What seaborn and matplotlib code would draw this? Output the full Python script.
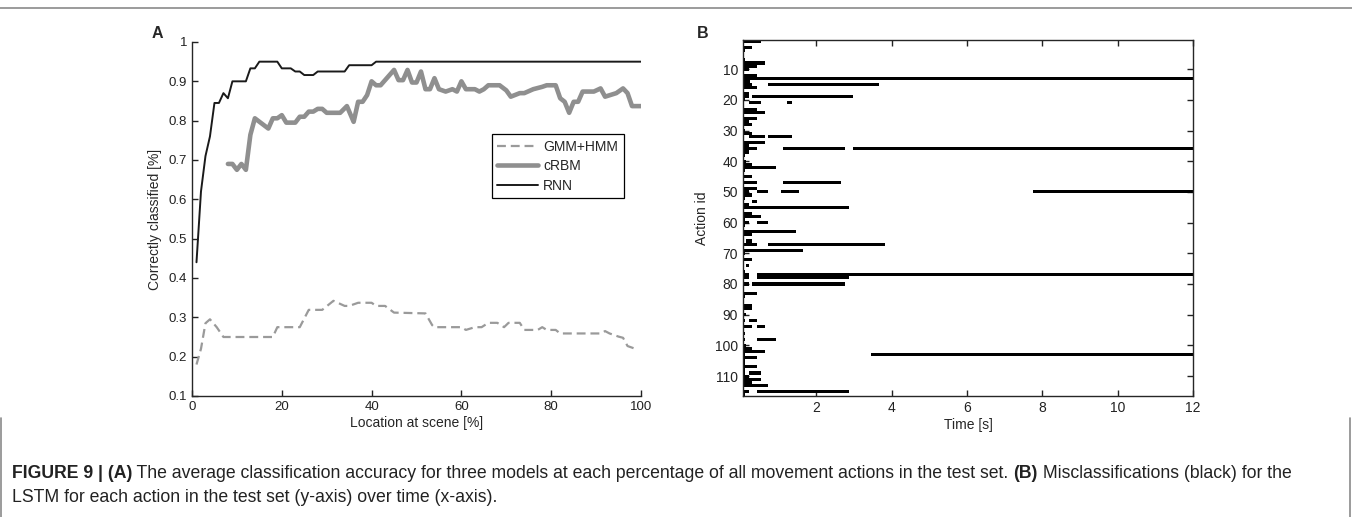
import numpy as np
import pandas as pd
import matplotlib
matplotlib.use('Agg')
import matplotlib.pyplot as plt
from matplotlib.lines import Line2D
import seaborn as sns

# panel A: accuracy vs. location at scene
rnn_x = [1, 2, 3, 4, 5, 6, 7, 8, 9, 12, 13, 14, 15, 19, 20, 22, 23, 24, 25, 27, 28, 34, 35, 40, 41, 100]
rnn_y = [0.44, 0.62, 0.71, 0.76, 0.845, 0.845, 0.87, 0.857, 0.9, 0.9, 0.933, 0.933, 0.95, 0.95,
         0.933, 0.933, 0.925, 0.925, 0.916, 0.916, 0.925, 0.925, 0.941, 0.941, 0.95, 0.95]

crbm_x = [8, 9, 10, 11, 12, 13, 14, 17, 18, 19, 20, 21, 23, 24, 25, 26, 27, 28, 29, 30, 33, 34.5,
          36, 37, 38, 39, 40, 41, 42, 43, 45, 46, 47, 48, 49, 50, 51, 52, 53, 54, 55, 56.5, 58, 59,
          60, 61, 63, 64, 65, 66, 68.5, 70, 71, 73, 74, 76, 78, 79, 81, 82, 83, 84, 85, 86, 87, 89.5,
          91, 92, 94.5, 96, 97, 98, 100]
crbm_y = [0.69, 0.69, 0.675, 0.69, 0.675, 0.764, 0.806, 0.78, 0.806, 0.806, 0.814, 0.795, 0.795,
          0.81, 0.81, 0.823, 0.823, 0.83, 0.83, 0.82, 0.82, 0.837, 0.797, 0.848, 0.848, 0.865, 0.9,
          0.89, 0.89, 0.903, 0.929, 0.903, 0.903, 0.929, 0.897, 0.897, 0.925, 0.88, 0.88, 0.908, 0.88,
          0.874, 0.88, 0.874, 0.9, 0.88, 0.88, 0.874, 0.88, 0.89, 0.89, 0.877, 0.861, 0.87, 0.87,
          0.88, 0.886, 0.89, 0.89, 0.857, 0.848, 0.82, 0.848, 0.848, 0.874, 0.874, 0.882, 0.861,
          0.87, 0.882, 0.87, 0.837, 0.837]

gmm_x = [1, 2, 3, 4, 5.5, 7, 18, 19, 24, 26, 29, 31.5, 34, 35, 37, 40, 41, 43, 45, 52, 53.5, 54,
         59, 60, 61, 63, 64.5, 66, 68, 69.5, 70.5, 73, 74, 77, 78, 79, 81, 82, 91, 92, 93, 95, 96,
         97, 99]
gmm_y = [0.18, 0.22, 0.285, 0.295, 0.275, 0.25, 0.25, 0.275, 0.275, 0.319, 0.319, 0.342, 0.329,
         0.329, 0.337, 0.337, 0.329, 0.329, 0.312, 0.31, 0.28, 0.275, 0.275, 0.275, 0.268, 0.275,
         0.275, 0.286, 0.286, 0.275, 0.286, 0.286, 0.268, 0.268, 0.275, 0.268, 0.268, 0.259, 0.259,
         0.265, 0.259, 0.251, 0.248, 0.227, 0.219]

# panel B: misclassified intervals per action (action id, start [s], end [s])
seg_action = [1, 3, 4, 7, 8, 9, 10, 12, 13, 14, 15, 15, 16, 18, 19, 19, 20, 21, 21, 23, 24, 26,
              27, 28, 30, 31, 32, 32, 34, 35, 36, 36, 36, 37, 38, 39, 40, 41, 42, 43, 45, 47, 47,
              49, 50, 50, 50, 50, 51, 52, 53, 54, 55, 57, 58, 59, 60, 60, 61, 63, 64, 66, 67, 67,
              69, 70, 72, 74, 76, 77, 77, 78, 78, 80, 80, 83, 84, 87, 88, 90, 92, 92, 94, 94, 96,
              98, 98, 100, 101, 102, 103, 103, 104, 105, 106, 107, 108, 109, 109, 110, 111, 112,
              113, 115, 115, 116]
seg_start = [0, 0, 0, 0, 0, 0, 0, 0, 0, 0, 0, 0.71, 0, 0, 0, 0.3, 0, 0.2, 1.23, 0, 0, 0,
             0, 0, 0, 0, 0.2, 0.71, 0, 0, 0, 1.12, 2.97, 0, 0, 0, 0, 0, 0, 0, 0, 0, 1.12,
             0, 0, 0.41, 1.05, 7.75, 0, 0, 0.3, 0, 0, 0, 0, 0, 0, 0.41, 0, 0, 0, 0.12, 0, 0.71,
             0, 0, 0, 0.12, 0, 0, 0.41, 0, 0.41, 0, 0.3, 0, 0, 0, 0, 0, 0, 0.2, 0, 0.41, 0,
             0, 0.41, 0, 0, 0, 0, 3.45, 0, 0, 0, 0, 0, 0, 0.2, 0, 0, 0,
             0, 0, 0.41, 0]
seg_end = [0.52, 0.3, 0.1, 0.1, 0.64, 0.41, 0.2, 0.41, 12, 0.23, 0.3, 3.65, 0.41, 0.2, 0.2, 2.97,
           0.1, 0.52, 1.34, 0.41, 0.64, 0.41, 0.2, 0.3, 0.1, 0.3, 0.64, 1.34, 0.64, 0.2, 0.41,
           2.77, 12, 0.2, 0.1, 0.05, 0.12, 0.3, 0.93, 0.1, 0.3, 0.41, 2.66, 0.41, 0.2, 0.71, 1.53,
           12, 0.3, 0.1, 0.41, 0.2, 2.86, 0.3, 0.52, 0.1, 0.2, 0.71, 0.1, 1.45, 0.3, 0.3, 0.41,
           3.82, 1.64, 0.1, 0.3, 0.2, 0.1, 0.2, 12, 0.2, 2.86, 0.2, 2.77, 0.41, 0.1, 0.3, 0.3,
           0.12, 0.1, 0.41, 0.3, 0.64, 0.1, 0.1, 0.93, 0.12, 0.3, 0.64, 0.1, 12, 0.41, 0.1, 0.1,
           0.41, 0.1, 0.1, 0.52, 0.2, 0.52, 0.3, 0.71, 0.2, 2.86, 0.1]

sns.set_theme(style='ticks')
plt.rcParams['font.family'] = ['Liberation Sans', 'DejaVu Sans']
plt.rcParams['axes.linewidth'] = 1.0

fig = plt.figure(figsize=(13.52, 5.17), dpi=100)
W, H = 1352, 517

def frac(left, top, right, bottom):
    return [left / W, 1 - bottom / H, (right - left) / W, (bottom - top) / H]

# ---- panel A ----
axA = fig.add_axes(frac(192, 42, 641, 396))
sns.lineplot(x=gmm_x, y=gmm_y, ax=axA, color='#9a9a9a', lw=1.6)
axA.lines[-1].set_dashes((4, 2.2))
sns.lineplot(x=crbm_x, y=crbm_y, ax=axA, color='#8f8f8f', lw=3.3)
sns.lineplot(x=rnn_x, y=rnn_y, ax=axA, color='#1a1a1a', lw=1.4)
axA.set_xlim(0, 100)
axA.set_ylim(0.1, 1)
axA.set_xticks([0, 20, 40, 60, 80, 100])
axA.set_yticks(np.arange(0.1, 1.01, 0.1))
axA.set_yticklabels(['0.1', '0.2', '0.3', '0.4', '0.5', '0.6', '0.7', '0.8', '0.9', '1'])
axA.tick_params(direction='in', length=4, width=1, labelsize=9.5, colors='#222222')
sns.despine(ax=axA)
axA.set_xlabel('Location at scene [%]', fontsize=10, labelpad=2)
axA.set_ylabel('Correctly classified [%]', fontsize=10, labelpad=5)
handles = [Line2D([], [], color='#9a9a9a', lw=1.6, dashes=(4, 2.2)),
           Line2D([], [], color='#8f8f8f', lw=3.3),
           Line2D([], [], color='#1a1a1a', lw=1.4)]
leg = axA.legend(handles, ['GMM+HMM', 'cRBM', 'RNN'], loc='upper left',
                 bbox_to_anchor=(0.668, 0.74), fontsize=10, frameon=True, fancybox=False,
                 framealpha=1, edgecolor='black', handlelength=2.95, handletextpad=0.35,
                 borderpad=0.4, labelspacing=0.4, borderaxespad=0)
leg.get_frame().set_linewidth(0.9)

# ---- panel B ----
axB = fig.add_axes(frac(743, 40, 1193, 396))
segs = pd.DataFrame({'action': seg_action, 'start': seg_start, 'end': seg_end})
axB.barh(segs['action'], segs['end'] - segs['start'], left=segs['start'], height=1.0,
         color='black', linewidth=0)
axB.set_xlim(0.05, 12)
axB.set_ylim(116.5, 0.5)
axB.set_xticks([2, 4, 6, 8, 10, 12])
axB.set_yticks(np.arange(10, 111, 10))
axB.tick_params(direction='in', length=4, width=1, labelsize=10, colors='#222222',
                top=True, right=True)
axB.set_xlabel('Time [s]', fontsize=10, labelpad=2)
axB.set_ylabel('Action id', fontsize=10, labelpad=4)

fig.text(152 / W, 1 - 34 / H, 'A', fontsize=11.5, fontweight='bold', va='center')
fig.text(697 / W, 1 - 34 / H, 'B', fontsize=11.5, fontweight='bold', va='center')

# ---- frame and caption ----
fig.add_artist(Line2D([0, 1], [1 - 8 / H, 1 - 8 / H], color='#8a8a8a', lw=1.2))
fig.add_artist(Line2D([1 / W, 1 / W], [0, 1 - 418 / H], color='#8a8a8a', lw=1.2))
fig.add_artist(Line2D([1 - 2 / W, 1 - 2 / W], [0, 1 - 418 / H], color='#8a8a8a', lw=1.2))

cap_font = ['Liberation Sans', 'DejaVu Sans']
renderer = fig.canvas.get_renderer()

def write_runs(runs, x0, y0):
    x = x0
    for txt, bold in runs:
        t = fig.text(x / W, 1 - y0 / H, txt, fontsize=12.7, family=cap_font,
                     fontweight='bold' if bold else 'normal', va='center', color='#222222')
        bb = t.get_window_extent(renderer=renderer)
        x += bb.width

write_runs([('FIGURE 9 | (A)', True),
            (' The average classification accuracy for three models at each percentage of all '
             'movement actions in the test set. ', False),
            ('(B)', True), (' Misclassifications (black) for the', False)], 12, 474)
write_runs([('LSTM for each action in the test set (y-axis) over time (x-axis).', False)], 12, 497)

fig.savefig('out.png', dpi=100)
